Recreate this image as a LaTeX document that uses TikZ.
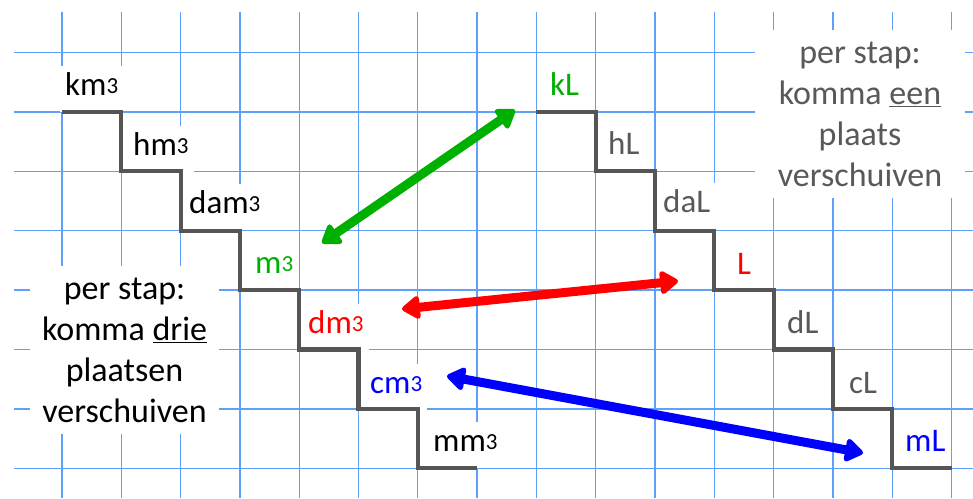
\documentclass[tikz,border=0pt]{standalone}
\usepackage{fontspec}
\setmainfont{Carlito}
\usetikzlibrary{arrows.meta}
\definecolor{gridblue}{RGB}{95,160,250}
\definecolor{stairgray}{RGB}{85,85,85}
\definecolor{txtgray}{RGB}{89,89,89}
\definecolor{grn}{RGB}{0,176,0}
\definecolor{rd}{RGB}{255,0,0}
\definecolor{bl}{RGB}{0,0,255}
\newcommand\cubd{\raisebox{2pt}{\fontsize{23}{23}\selectfont 3}}
\begin{document}
\begin{tikzpicture}[x=1pt,y=-1pt,
  gridline/.style={draw=gridblue, line width=1.3pt},
  stair/.style={draw=stairgray, line width=4.2pt, line join=miter},
  lab/.style={fill=white, inner xsep=5pt, inner ysep=1pt, text height=28pt, text depth=16pt,
    anchor=base west, font=\fontsize{33}{40}\selectfont},
  note/.style={fill=white, align=center, inner sep=0pt, font=\fontsize{34}{41}\selectfont},
  dbl/.style={line width=9pt, {Triangle[width=26pt,length=20pt,round]}-{Triangle[width=26pt,length=20pt,round]}}
]
\useasboundingbox (0,0) rectangle (973,498);
\fill[white] (0,0) rectangle (973,498);
% grid
\foreach \k in {0,...,15} \draw[gridline] ({62+59.3*\k},12) -- ({62+59.3*\k},498);
\foreach \j in {0,...,7} \draw[gridline] (14,{52.5+59.4*\j}) -- (973,{52.5+59.4*\j});
% notes
\node[note, text=txtgray, minimum width=210pt, minimum height=168pt] (noteR) at (860,114)
  {per stap:\\komma \underline{een}\\plaats\\verschuiven};
\node[note, text=black, minimum width=189pt, minimum height=168pt] (noteL) at (124.5,350)
  {per stap:\\komma \underline{drie}\\plaatsen\\verschuiven};
% labels left
\node[lab, text=black] (km) at (60,95) {km\cubd};
\node[lab, text=black] (hm) at (128,155) {hm\cubd};
\node[lab, text=black] (dam) at (184,213) {dam\cubd};
\node[lab, text=grn] (m) at (250,273) {m\cubd};
\node[lab, text=rd] (dm) at (303,333) {dm\cubd};
\node[lab, text=bl] (cm) at (365,393) {cm\cubd};
\node[lab, text=black] (mm) at (428,451) {mm\cubd};
% labels right
\node[lab, text=grn] (kL) at (545,95) {kL};
\node[lab, text=txtgray] (hL) at (603,154) {hL};
\node[lab, text=txtgray] (daL) at (658,212) {daL};
\node[lab, text=rd] (L) at (732,274) {L};
\node[lab, text=txtgray] (dL) at (782,333) {dL};
\node[lab, text=txtgray] (cL) at (844,393) {cL};
\node[lab, text=bl] (mL) at (900,451) {mL};
% stairs
\draw[stair] (62,111.9) -| (121.3,171.3) -| (180.6,230.7) -| (239.9,290.1) -| (299.2,349.5)
  -| (358.5,408.9) -| (417.8,468.3) -- (477.1,468.3);
\draw[stair] (536.4,111.9) -| (595.7,171.3) -| (655,230.7) -| (714.3,290.1) -| (773.6,349.5)
  -| (832.9,408.9) -| (892.2,468.3) -- (951.5,468.3);
% arrows
\coordinate (gA) at (322,243); \coordinate (gB) at (515,110);
\coordinate (rA) at (402,309); \coordinate (rB) at (678,281);
\coordinate (bA) at (447,376); \coordinate (bB) at (863,453);
\draw[dbl, grn] (gA) -- (gB);
\draw[dbl, rd] (rA) -- (rB);
\draw[dbl, bl] (bA) -- (bB);
\end{tikzpicture}
\end{document}
